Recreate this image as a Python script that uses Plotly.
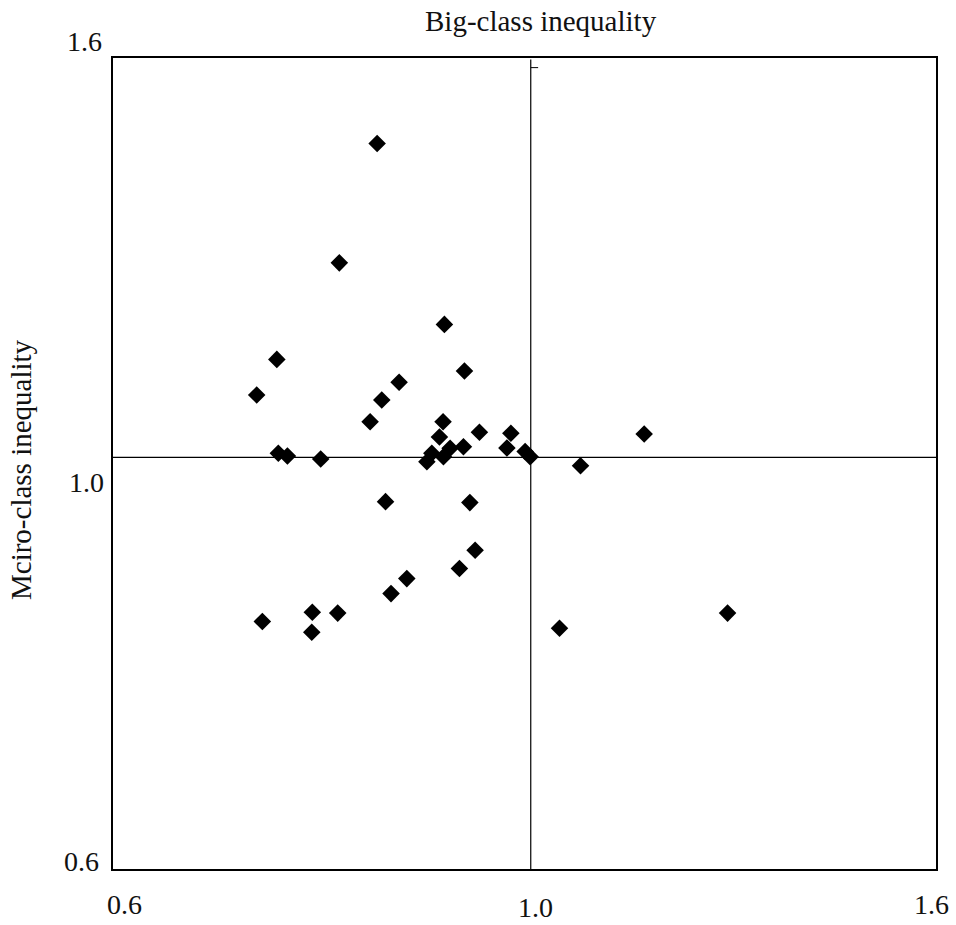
import math
import plotly.graph_objects as go

# ---- data ----
big_class = [0.8368, 0.8009, 0.9047, 0.7449, 0.9260, 0.7277, 0.8584, 0.8413,
             0.8300, 0.9033, 0.8995, 0.9422, 0.9772, 1.1406, 0.9249, 0.9727,
             0.9935, 0.9993, 0.9107, 0.8916, 0.8865, 0.9037, 0.7462, 0.7541,
             0.7838, 1.0594, 0.8450, 0.9318, 0.9375, 0.9206, 0.8661, 0.8504,
             0.7325, 0.7762, 0.7994, 0.7757, 1.0339, 1.2564]
micro_class = [1.4467, 1.2572, 1.1694, 1.1222, 1.1069, 1.0761, 1.0923, 1.0698,
               1.0428, 1.0428, 1.0242, 1.0299, 1.0287, 1.0278, 1.0126, 1.0110,
               1.0069, 1.0007, 1.0107, 1.0048, 0.9949, 1.0007, 1.0048, 1.0016,
               0.9980, 0.9902, 0.9492, 0.9481, 0.8964, 0.8773, 0.8670, 0.8518,
               0.8243, 0.8334, 0.8325, 0.8140, 0.8178, 0.8325]

axis_min = 0.616
axis_max = 1.6
reference_value = 1.0
x_tick_labels = ["0.6", "1.0", "1.6"]
y_tick_labels = ["1.6", "1.0", "0.6"]
title_text = "Big-class inequality"
y_title_text = "Mciro-class inequality"

# ---- layout geometry (pixels) ----
W, H = 956, 925
L, R, T, B = 113, 20, 58, 56
PW, PH = W - L - R, H - T - B


def px_x(p):
    return (p - L) / PW


def px_y(p):
    return (H - B - p) / PH


FONT = "Liberation Serif"

fig = go.Figure()
fig.add_trace(go.Scatter(
    x=big_class, y=micro_class, mode="markers",
    marker=dict(symbol="diamond", size=13.5, color="black", line=dict(width=0)),
    showlegend=False, hoverinfo="x+y",
))

# reference cross lines at 1.0
fig.add_shape(type="line", xref="x", yref="paper", x0=reference_value, x1=reference_value,
              y0=0, y1=0.998, line=dict(color="black", width=1.2))
fig.add_shape(type="line", xref="paper", yref="y", x0=0, x1=1,
              y0=reference_value, y1=reference_value, line=dict(color="black", width=1.2))
# small tick near top of the vertical line
fig.add_shape(type="line", xref="x", yref="y", x0=reference_value, x1=1.0086,
              y0=1.582, y1=1.582, line=dict(color="black", width=1))

axis_common = dict(type="log", showgrid=False, zeroline=False, showticklabels=False,
                   ticks="", showline=True, linecolor="black", linewidth=2, mirror=True)
fig.update_xaxes(range=[math.log10(axis_min), math.log10(axis_max)], **axis_common)
fig.update_yaxes(range=[math.log10(axis_min), math.log10(axis_max)], **axis_common)

annotations = []
tick_font = dict(family=FONT, size=28, color="#111111")
for txt, (cx, cy) in zip(x_tick_labels, [(124, 905), (535, 907), (931, 905)]):
    annotations.append(dict(text=txt, xref="paper", yref="paper", x=px_x(cx), y=px_y(cy),
                            xanchor="center", yanchor="middle", showarrow=False, font=tick_font))
for txt, (cx, cy) in zip(y_tick_labels, [(84, 41), (86, 483), (81, 861)]):
    annotations.append(dict(text=txt, xref="paper", yref="paper", x=px_x(cx), y=px_y(cy),
                            xanchor="center", yanchor="middle", showarrow=False, font=tick_font))
annotations.append(dict(text=title_text, xref="paper", yref="paper", x=px_x(541), y=px_y(21),
                        xanchor="center", yanchor="middle", showarrow=False,
                        font=dict(family=FONT, size=29, color="#111111")))
annotations.append(dict(text=y_title_text, xref="paper", yref="paper", x=px_x(21), y=px_y(470),
                        xanchor="center", yanchor="middle", showarrow=False, textangle=-90,
                        font=dict(family=FONT, size=29, color="#111111")))

fig.update_layout(
    width=W, height=H,
    margin=dict(l=L, r=R, t=T, b=B, pad=0),
    paper_bgcolor="white", plot_bgcolor="white",
    annotations=annotations,
)

fig.write_html("out.html")
